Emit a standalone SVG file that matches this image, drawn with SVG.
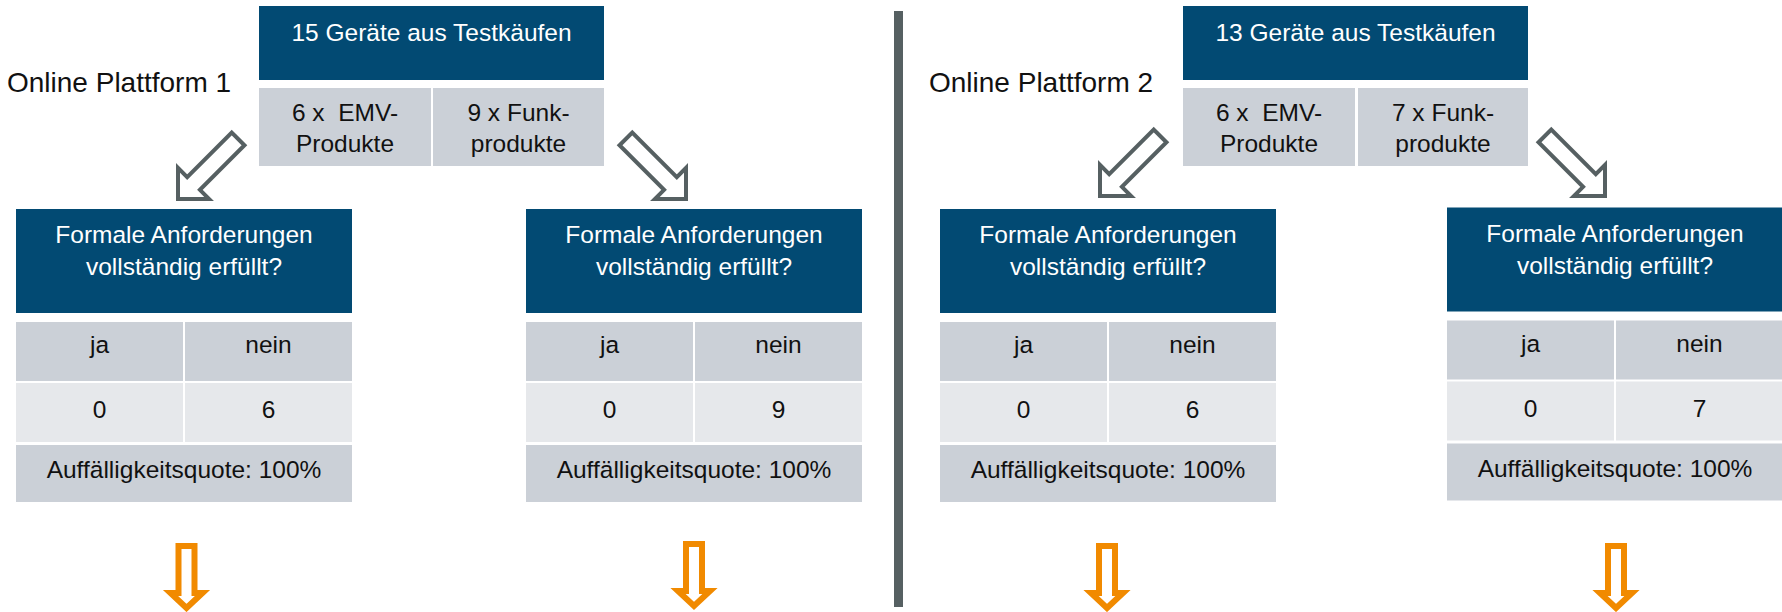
<svg xmlns="http://www.w3.org/2000/svg" xmlns:xlink="http://www.w3.org/1999/xlink" width="1782" height="612" viewBox="0 0 1782 612">
<style>
text{font-family:"Liberation Sans",Arial,sans-serif;font-size:24.5px;text-anchor:middle;fill:#111}
.w{fill:#fff}
.lbl{font-size:28px;text-anchor:start}
.blue{fill:#024a73}
.g1{fill:#cbd0d7}
.g2{fill:#e6e8eb}
.ga{fill:#fff;stroke:#566062;stroke-width:4;stroke-linejoin:miter}
.oa{fill:#fff;stroke:#f18a00;stroke-width:6;stroke-linejoin:miter}
</style>
<defs>
<polygon id="grayArrow" class="ga" points="0,0 -22,-22 -22,-9 -85,-9 -85,9 -22,9 -22,22"/>
<polygon id="orangeArrow" class="oa" points="-8,0 8,0 8,47 16,47 0,62 -16,47 -8,47"/>
<g id="check">
<rect class="blue" x="0" y="209" width="336" height="104"/>
<text class="w" x="168" y="243">Formale Anforderungen</text>
<text class="w" x="168" y="275">vollständig erfüllt?</text>
<rect class="g1" x="0" y="322" width="167" height="59"/>
<rect class="g1" x="169" y="322" width="167" height="59"/>
<text x="83.5" y="353">ja</text>
<text x="252.5" y="353">nein</text>
<rect class="g2" x="0" y="383" width="167" height="59"/>
<rect class="g2" x="169" y="383" width="167" height="59"/>
<rect class="g1" x="0" y="445" width="336" height="57"/>
<text x="168" y="478">Auffälligkeitsquote: 100%</text>
</g>
</defs>

<rect id="divider" x="894" y="11" width="9" height="596" fill="#566062"/>

<g id="p1-label"><text class="lbl" x="7" y="92">Online Plattform 1</text></g>
<g id="p1-title">
<rect class="blue" x="259" y="6" width="345" height="74"/>
<text class="w" x="431.5" y="41">15 Geräte aus Testkäufen</text>
</g>
<g id="p1-emv">
<rect class="g1" x="259" y="88" width="172" height="78"/>
<text x="345" y="121" xml:space="preserve">6 x  EMV-</text>
<text x="345" y="152">Produkte</text>
</g>
<g id="p1-funk">
<rect class="g1" x="433" y="88" width="171" height="78"/>
<text x="518.5" y="121">9 x Funk-</text>
<text x="518.5" y="152">produkte</text>
</g>
<g id="p1-emv-check" transform="translate(16,0)">
<use xlink:href="#check"/>
<text x="83.5" y="418">0</text>
<text x="252.5" y="418">6</text>
</g>
<g id="p1-funk-check" transform="translate(526,0)">
<use xlink:href="#check"/>
<text x="83.5" y="418">0</text>
<text x="252.5" y="418">9</text>
</g>

<g id="p2-label"><text class="lbl" x="929" y="92">Online Plattform 2</text></g>
<g id="p2-title">
<rect class="blue" x="1183" y="6" width="345" height="74"/>
<text class="w" x="1355.5" y="41">13 Geräte aus Testkäufen</text>
</g>
<g id="p2-emv">
<rect class="g1" x="1183" y="88" width="172" height="78"/>
<text x="1269" y="121" xml:space="preserve">6 x  EMV-</text>
<text x="1269" y="152">Produkte</text>
</g>
<g id="p2-funk">
<rect class="g1" x="1358" y="88" width="170" height="78"/>
<text x="1443" y="121">7 x Funk-</text>
<text x="1443" y="152">produkte</text>
</g>
<g id="p2-emv-check" transform="translate(940,0)">
<use xlink:href="#check"/>
<text x="83.5" y="418">0</text>
<text x="252.5" y="418">6</text>
</g>
<g id="p2-funk-check" transform="translate(1447,-1.5)">
<use xlink:href="#check"/>
<text x="83.5" y="418">0</text>
<text x="252.5" y="418">7</text>
</g>

<g id="connectors">
<use xlink:href="#grayArrow" transform="translate(178,199) rotate(135)"/>
<use xlink:href="#grayArrow" transform="translate(686,199) rotate(45)"/>
<use xlink:href="#grayArrow" transform="translate(1100,196) rotate(135)"/>
<use xlink:href="#grayArrow" transform="translate(1605,196) rotate(45)"/>
<use xlink:href="#orangeArrow" transform="translate(186.5,546)"/>
<use xlink:href="#orangeArrow" transform="translate(694,544)"/>
<use xlink:href="#orangeArrow" transform="translate(1107,546)"/>
<use xlink:href="#orangeArrow" transform="translate(1616,546)"/>
</g>
</svg>
